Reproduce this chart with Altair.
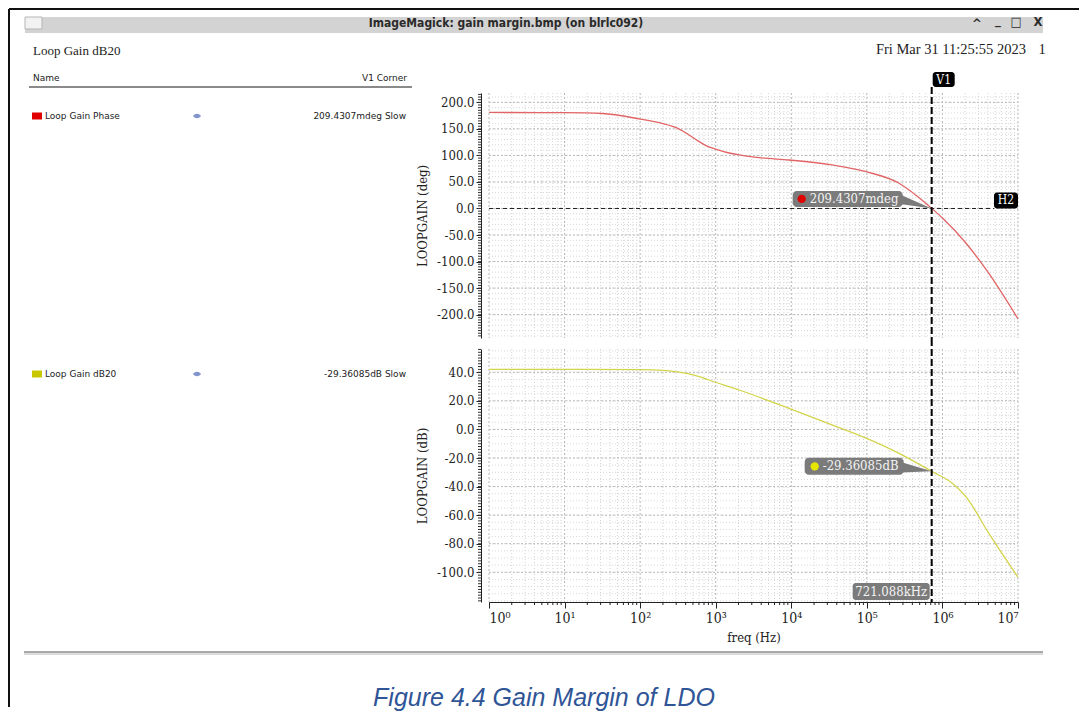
import json
import altair as alt
import pandas as pd

# ---------------- values ----------------
phase_freq_hz = [1, 10, 31.6, 100, 200, 316, 603, 794, 1000, 1413, 2042, 3981, 9333, 34674,
                 97724, 263027, 446684, 721088, 1000000, 2041738, 4073803, 10000000]
phase_deg = [181, 180.5, 179, 168.5, 160, 151, 126, 116.5, 112, 105.5, 101, 95.5, 91.4, 82,
             69.3, 48, 25, 0.2094307, -18, -65, -121.5, -208]

gain_freq_hz = [1, 10, 100, 200, 295, 603, 813, 2042, 9333, 34674, 97724, 263027,
                721088, 1349000, 2041738, 4073803, 10000000]
gain_db = [42.1, 42.1, 41.8, 41.3, 40.4, 37, 34.6, 27.6, 14.8, 3.2, -6.1, -16.6,
           -29.36085, -37.7, -47, -72.4, -103.5]

v1_freq_hz = 721088.0
phase_at_v1 = 0.2094307
gain_at_v1 = -29.36085

x_decades = [1, 10, 100, 1000, 10000, 100000, 1000000, 10000000]
x_decade_labels = ["10\u2070", "10\u00b9", "10\u00b2", "10\u00b3", "10\u2074", "10\u2075", "10\u2076", "10\u2077"]
phase_ticks = [-200, -150, -100, -50, 0, 50, 100, 150, 200]
gain_ticks = [-100, -80, -60, -40, -20, 0, 20, 40]

legend_names = ["Loop Gain Phase", "Loop Gain dB20"]
legend_values = ["209.4307mdeg Slow", "-29.36085dB Slow"]
legend_colors = ["#e00000", "#c8c800"]

window_title = "ImageMagick: gain margin.bmp (on blrlc092)"
plot_title = "Loop Gain dB20"
date_text = "Fri Mar 31 11:25:55 2023"
caption = "Figure 4.4 Gain Margin of LDO"

# minor tick / grid positions (axis decoration)
x_minor = [m * d for d in x_decades[:-1] for m in range(2, 10)]
phase_minor_grid = list(range(-240, 211, 10))
phase_minor_ticks = list(range(-240, 216, 5))
gain_minor_grid = list(range(-120, 56, 5))
gain_minor_ticks = list(range(-120, 57, 2))

# ---------------- styling ----------------
SERIF = "DejaVu Serif Condensed, DejaVu Serif, serif"
SANS = "DejaVu Sans, sans-serif"
TITLE_SANS = "DejaVu Sans Condensed, DejaVu Sans, sans-serif"
W, H1, H2 = 529, 245, 253

xscale = alt.Scale(type="log", domain=[1, 1e7], nice=False)
y1scale = alt.Scale(domain=[-244, 217.6], nice=False, zero=False)
y2scale = alt.Scale(domain=[-120.8, 56.3], nice=False, zero=False)

HYPHEN_LABEL = "(datum.value < 0 ? '-' : '') + format(abs(datum.value), '.1f')"


def yaxis(values, title):
    return alt.Axis(values=values, labelExpr=HYPHEN_LABEL, title=title, offset=8, tickSize=5,
                    tickColor="#222222", domainColor="#222222", labelPadding=2,
                    grid=False, titlePadding=7)


X_TOP = None
Y_TOP = yaxis(phase_ticks, "LOOPGAIN (deg)")
X_BOT = alt.Axis(values=x_decades, title="freq (Hz)", tickSize=6, tickColor="#222222",
                 domainColor="#222222", labelPadding=3, titlePadding=6, grid=False,
                 labelFontSize=14,
                 labelExpr=json.dumps(x_decade_labels, ensure_ascii=False)
                 + "[round(log(datum.value)/LN10)]")
Y_BOT = yaxis(gain_ticks, "LOOPGAIN (dB)")

one = pd.DataFrame({"k": [0]})


def T(text, x, y, size=13, font=SERIF, color="#222222", align="left",
      weight="normal", style="normal"):
    return alt.Chart(one).mark_text(
        text=text, align=align, baseline="middle", font=font, fontSize=size,
        fontWeight=weight, fontStyle=style, color=color
    ).encode(x=alt.value(x), y=alt.value(y))


def R(x1, x2, y1, y2, fill, stroke=None, radius=0):
    kw = dict(fill=fill, cornerRadius=radius, opacity=1)
    if stroke:
        kw["stroke"] = stroke
        kw["strokeWidth"] = 1
    else:
        kw["strokeWidth"] = 0
    return alt.Chart(one).mark_rect(**kw).encode(
        x=alt.value(x1), x2=alt.value(x2), y=alt.value(y1), y2=alt.value(y2))


def L(x1, x2, y1, y2, color, width=1, dash=None):
    kw = dict(color=color, strokeWidth=width)
    if dash:
        kw["strokeDash"] = dash
    return alt.Chart(one).mark_rule(**kw).encode(
        x=alt.value(x1), x2=alt.value(x2), y=alt.value(y1), y2=alt.value(y2))


EYE = "M -1 0 Q 0 -1.1 1 0 Q 0 1.1 -1 0 Z"


def legend_row(i, yc):
    return [
        R(-457, -447, yc - 3.5, yc + 3.5, legend_colors[i]),
        T(legend_names[i], -444, yc, size=9, font=SANS),
        alt.Chart(one).mark_point(shape=EYE, size=70, filled=True, color="#8294cc",
                                  opacity=1, strokeWidth=0).encode(
            x=alt.value(-292), y=alt.value(yc)),
        T(legend_values[i], -83, yc, size=9, font=SANS, align="right"),
    ]


def grids(yscale, xax, yax, h, minor_y, major_y):
    out = []
    out.append(alt.Chart(pd.DataFrame({"f": x_minor})).mark_rule(
        color="#d4d4d4", strokeWidth=1, strokeDash=[1, 2]).encode(
        x=alt.X("f:Q", scale=xscale, axis=xax), y=alt.value(0), y2=alt.value(h)))
    out.append(alt.Chart(pd.DataFrame({"f": x_decades})).mark_rule(
        color="#b6b6b6", strokeWidth=1, strokeDash=[2, 2]).encode(
        x=alt.X("f:Q", scale=xscale, axis=xax), y=alt.value(0), y2=alt.value(h)))
    out.append(alt.Chart(pd.DataFrame({"v": minor_y})).mark_rule(
        color="#d8d8d8", strokeWidth=1, strokeDash=[1, 2]).encode(
        y=alt.Y("v:Q", scale=yscale, axis=yax), x=alt.value(0), x2=alt.value(W)))
    out.append(alt.Chart(pd.DataFrame({"v": major_y})).mark_rule(
        color="#bababa", strokeWidth=1, strokeDash=[2, 2]).encode(
        y=alt.Y("v:Q", scale=yscale, axis=yax), x=alt.value(0), x2=alt.value(W)))
    return out


def y_minor_ticks(yscale, yax, vals):
    return alt.Chart(pd.DataFrame({"v": vals})).mark_rule(color="#333333", strokeWidth=1).encode(
        y=alt.Y("v:Q", scale=yscale, axis=yax), x=alt.value(-11), x2=alt.value(-8))


def vx(xax):
    return alt.X(datum=v1_freq_hz, scale=xscale, axis=xax)


# ================= top panel: phase =================
top_layers = []
top_layers += [
    L(-480, -480, -84, H1 + 1, "#111111", 2),
    L(-480, 590, -84, -84, "#111111", 2),
    R(-464, 554, -76, -60, "#d3d3d3"),
    R(-464, -447, -76, -64, "#f2f2f2", stroke="#b5b5b5"),
    T(window_title, 17, -70, size=12, font=TITLE_SANS, weight="bold", align="center", color="#2a2a2a"),
    T("^", 488, -69, size=13, font=TITLE_SANS, weight="bold", align="center", color="#2a2a2a"),
    T("_", 509, -73, size=13, font=TITLE_SANS, weight="bold", align="center", color="#2a2a2a"),
    T("\u25a1", 527, -71, size=13, font=TITLE_SANS, weight="bold", align="center", color="#2a2a2a"),
    T("X", 549, -71, size=13, font=TITLE_SANS, weight="bold", align="center", color="#2a2a2a"),
    T(plot_title, -456, -42, size=13, font="Liberation Serif, serif"),
    T(date_text, 537, -43, size=14.5, font="Liberation Serif, serif", align="right"),
    T("1", 553, -43, size=14.5, font="Liberation Serif, serif", align="center"),
    T("Name", -456, -15, size=9, font=SANS),
    T("V1 Corner", -82, -15, size=9, font=SANS, align="right"),
    L(-460, -77, -6, -6, "#8a8a8a", 2),
]
top_layers += legend_row(0, 23)
top_layers += grids(y1scale, X_TOP, Y_TOP, H1, phase_minor_grid, phase_ticks)
top_layers.append(y_minor_ticks(y1scale, Y_TOP, phase_minor_ticks))
# H2 horizontal cursor
top_layers.append(alt.Chart(one).mark_rule(color="#222222", strokeWidth=1, strokeDash=[4, 3]).encode(
    y=alt.Y(datum=0, scale=y1scale, axis=Y_TOP), x=alt.value(0), x2=alt.value(505)))
# curve
top_layers.append(alt.Chart(pd.DataFrame({"f": phase_freq_hz, "deg": phase_deg})).mark_line(
    color="#e26466", strokeWidth=1.3, interpolate="monotone").encode(
    x=alt.X("f:Q", scale=xscale, axis=X_TOP),
    y=alt.Y("deg:Q", scale=y1scale, axis=Y_TOP)))
# V1 cursor
top_layers.append(alt.Chart(one).mark_rule(color="#000000", strokeWidth=2, strokeDash=[7, 3]).encode(
    x=vx(X_TOP), y=alt.value(-6), y2=alt.value(H1 + 1)))
top_layers.append(alt.Chart(one).mark_rect(fill="#000000", cornerRadius=3, xOffset=1, x2Offset=23).encode(
    x=vx(X_TOP), x2=alt.X2(datum=v1_freq_hz), y=alt.value(-21), y2=alt.value(-6)))
top_layers.append(alt.Chart(one).mark_text(text="V1", font=SERIF, fontSize=12, color="#ffffff",
                                           align="center", baseline="middle", dx=12).encode(
    x=vx(X_TOP), y=alt.value(-13)))
# H2 label
top_layers.append(alt.Chart(one).mark_rect(fill="#000000", cornerRadius=3, yOffset=-16, y2Offset=0).encode(
    x=alt.value(505), x2=alt.value(529), y=alt.Y(datum=0, scale=y1scale, axis=Y_TOP), y2=alt.Y2(datum=0)))
top_layers.append(alt.Chart(one).mark_text(text="H2", font=SERIF, fontSize=12, color="#ffffff",
                                           align="center", baseline="middle", dy=-8).encode(
    x=alt.value(517), y=alt.Y(datum=0, scale=y1scale, axis=Y_TOP)))
# marker label
py1 = alt.Y(datum=phase_at_v1, scale=y1scale, axis=Y_TOP)
top_layers.append(alt.Chart(one).mark_point(
    shape="M 0 0 L -2 -0.87 L -2 -0.27 Z", size=900, filled=True, color="#7b7b7b",
    opacity=1, strokeWidth=0).encode(x=vx(X_TOP), y=py1))
top_layers.append(alt.Chart(one).mark_rect(
    fill="#7b7b7b", cornerRadius=4, xOffset=-139, x2Offset=-29, yOffset=-17.5, y2Offset=-1.5).encode(
    x=vx(X_TOP), x2=alt.X2(datum=v1_freq_hz), y=py1, y2=alt.Y2(datum=phase_at_v1)))
top_layers.append(alt.Chart(one).mark_circle(size=70, color="#e00000", opacity=1,
                                             xOffset=-130, yOffset=-9.5).encode(x=vx(X_TOP), y=py1))
top_layers.append(alt.Chart(one).mark_text(text="209.4307mdeg", font=SERIF, fontSize=13,
                                           color="#f4f4f4", align="left", baseline="middle",
                                           dx=-122, dy=-9.5).encode(x=vx(X_TOP), y=py1))

top = alt.layer(*top_layers).properties(width=W, height=H1)

# ================= bottom panel: gain =================
bot_layers = []
bot_layers += [
    L(-480, -480, -10, 358, "#111111", 2),
]
bot_layers += legend_row(1, 25)
bot_layers += grids(y2scale, X_BOT, Y_BOT, H2, gain_minor_grid, gain_ticks)
bot_layers.append(y_minor_ticks(y2scale, Y_BOT, gain_minor_ticks))
# minor x ticks
bot_layers.append(alt.Chart(pd.DataFrame({"f": x_minor})).mark_rule(color="#222222", strokeWidth=1).encode(
    x=alt.X("f:Q", scale=xscale, axis=X_BOT), y=alt.value(H2), y2=alt.value(H2 + 3)))
# curve with axes
bot_layers.append(alt.Chart(pd.DataFrame({"f": gain_freq_hz, "db": gain_db})).mark_line(
    color="#d4d44c", strokeWidth=1.3, interpolate="monotone").encode(
    x=alt.X("f:Q", scale=xscale, axis=X_BOT),
    y=alt.Y("db:Q", scale=y2scale, axis=Y_BOT)))
# V1 cursor
bot_layers.append(alt.Chart(one).mark_rule(color="#000000", strokeWidth=2, strokeDash=[7, 3]).encode(
    x=vx(X_BOT), y=alt.value(-10), y2=alt.value(H2)))
# frequency label
bot_layers.append(alt.Chart(one).mark_rect(fill="#7b7b7b", cornerRadius=3, xOffset=-79, x2Offset=-2).encode(
    x=vx(X_BOT), x2=alt.X2(datum=v1_freq_hz), y=alt.value(234), y2=alt.value(251)))
bot_layers.append(alt.Chart(one).mark_text(text="721.088kHz", font=SERIF, fontSize=13, color="#f4f4f4",
                                           align="center", baseline="middle", dx=-40.5).encode(
    x=vx(X_BOT), y=alt.value(242.5)))
# marker label
py2 = alt.Y(datum=gain_at_v1, scale=y2scale, axis=Y_BOT)
bot_layers.append(alt.Chart(one).mark_point(
    shape="M 0 0 L -2 -0.6 L -2 0.07 Z", size=900, filled=True, color="#7b7b7b",
    opacity=1, strokeWidth=0).encode(x=vx(X_BOT), y=py2))
bot_layers.append(alt.Chart(one).mark_rect(
    fill="#7b7b7b", cornerRadius=4, xOffset=-127, x2Offset=-28, yOffset=-13.5, y2Offset=3.5).encode(
    x=vx(X_BOT), x2=alt.X2(datum=v1_freq_hz), y=py2, y2=alt.Y2(datum=gain_at_v1)))
bot_layers.append(alt.Chart(one).mark_circle(size=70, color="#e6e600", opacity=1,
                                             xOffset=-117, yOffset=-5).encode(x=vx(X_BOT), y=py2))
bot_layers.append(alt.Chart(one).mark_text(text="-29.36085dB", font=SERIF, fontSize=13,
                                           color="#f4f4f4", align="left", baseline="middle",
                                           dx=-109, dy=-5).encode(x=vx(X_BOT), y=py2))
# separator and caption
bot_layers += [
    R(-465, 554, 302, 304, "#a9a9a9"),
    R(-465, 554, 304, 306, "#dcdcdc"),
    T(caption, 55, 349, size=25, font="Liberation Sans, Arial, sans-serif",
      style="italic", align="center", color="#2f5597"),
]

bottom = alt.layer(*bot_layers).properties(width=W, height=H2)

chart = alt.vconcat(top, bottom, spacing=-2).properties(padding=0).configure_view(
    stroke=None
).configure_axis(
    labelFont=SERIF, titleFont=SERIF, labelFontSize=13, titleFontSize=13,
    titleFontWeight="normal", labelColor="#222222", titleColor="#222222"
)

chart.save("out.html", embed_options={"renderer": "svg", "actions": False})
